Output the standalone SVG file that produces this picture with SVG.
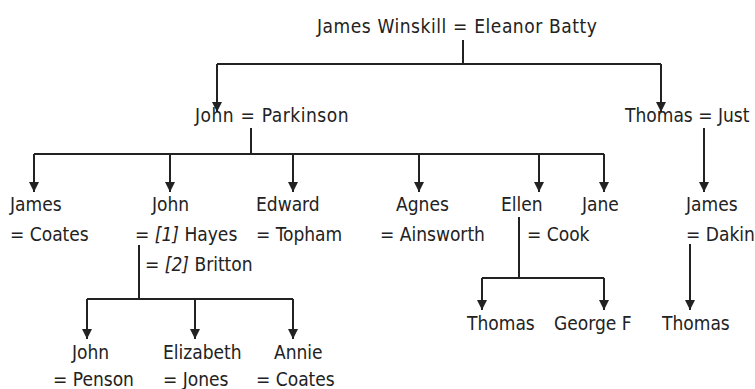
<svg xmlns="http://www.w3.org/2000/svg" width="755" height="389" viewBox="0 0 755 389">
<defs>
<style>
text{font-family:"DejaVu Sans Condensed","DejaVu Sans",sans-serif;font-size:19px;fill:#222}
.ws{letter-spacing:0.5px;word-spacing:0.5px}
.it{font-style:italic}
.c{fill:none;stroke:#222;stroke-width:2}
</style>
<marker id="ar" viewBox="0 0 10 10" refX="10" refY="5" markerWidth="10" markerHeight="10" markerUnits="userSpaceOnUse" orient="auto">
<path d="M0,0 L10,5 L0,10 z" fill="#222"/>
</marker>
</defs>
<rect width="755" height="389" fill="#fff"/>
<g id="connectors">
<path class="c" d="M463,40 V64 M217,64 H661"/>
<path class="c" d="M217,64 V112" marker-end="url(#ar)"/>
<path class="c" d="M661,64 V112" marker-end="url(#ar)"/>
<path class="c" d="M251,128 V154 M34,154 H604"/>
<path class="c" d="M34,154 V192" marker-end="url(#ar)"/>
<path class="c" d="M170,154 V192" marker-end="url(#ar)"/>
<path class="c" d="M293,154 V192" marker-end="url(#ar)"/>
<path class="c" d="M419,154 V192" marker-end="url(#ar)"/>
<path class="c" d="M539,154 V192" marker-end="url(#ar)"/>
<path class="c" d="M604,154 V192" marker-end="url(#ar)"/>
<path class="c" d="M704,128 V192" marker-end="url(#ar)"/>
<path class="c" d="M139,245 V299 M87,299 H293"/>
<path class="c" d="M87,299 V339" marker-end="url(#ar)"/>
<path class="c" d="M195,299 V339" marker-end="url(#ar)"/>
<path class="c" d="M293,299 V339" marker-end="url(#ar)"/>
<path class="c" d="M519,217 V278 M482,278 H604"/>
<path class="c" d="M482,278 V310" marker-end="url(#ar)"/>
<path class="c" d="M604,278 V310" marker-end="url(#ar)"/>
<path class="c" d="M690,244 V310" marker-end="url(#ar)"/>
</g>
<g id="n-james-winskill"><text class="ws" x="317" y="33">James Winskill = Eleanor Batty</text></g>
<g id="n-john-parkinson"><text class="ws" x="195" y="122">John = Parkinson</text></g>
<g id="n-thomas-just"><text x="625" y="122">Thomas = Just</text></g>
<g id="n-james-coates"><text x="10" y="211">James</text><text x="10" y="241">= Coates</text></g>
<g id="n-john-hayes"><text x="152" y="211">John</text><text x="135" y="241">= <tspan class="it">[1]</tspan> Hayes</text><text x="145" y="271">= <tspan class="it">[2]</tspan> Britton</text></g>
<g id="n-edward"><text x="256" y="211">Edward</text><text x="256" y="241">= Topham</text></g>
<g id="n-agnes"><text x="396" y="211">Agnes</text><text x="380" y="241">= Ainsworth</text></g>
<g id="n-ellen"><text x="501" y="211">Ellen</text><text x="527" y="241">= Cook</text></g>
<g id="n-jane"><text x="582" y="211">Jane</text></g>
<g id="n-james-dakin"><text x="686" y="211">James</text><text x="686" y="241">= Dakin</text></g>
<g id="n-thomas1"><text x="467" y="330">Thomas</text></g>
<g id="n-george"><text x="554" y="330">George F</text></g>
<g id="n-thomas2"><text x="662" y="330">Thomas</text></g>
<g id="n-john-penson"><text x="72" y="359">John</text><text x="53" y="386">= Penson</text></g>
<g id="n-elizabeth"><text x="163" y="359">Elizabeth</text><text x="163" y="386">= Jones</text></g>
<g id="n-annie"><text x="274" y="359">Annie</text><text x="256" y="386">= Coates</text></g>
</svg>
